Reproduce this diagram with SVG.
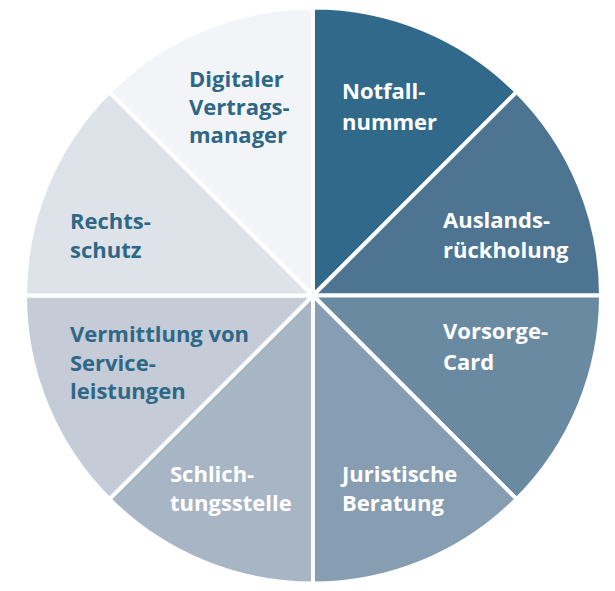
<svg xmlns="http://www.w3.org/2000/svg" width="615" height="591" viewBox="0 0 615 591">
<style>
.seg{stroke:#ffffff;stroke-width:4;stroke-linejoin:round}
.lbl{font-family:"Open Sans","Noto Sans",sans-serif;font-weight:700;font-size:22px}
.w{fill:#ffffff}
.d{fill:#2f6886}
</style>
<rect width="615" height="591" fill="#ffffff"/>
<g id="connectors"></g>
<g id="notfall">
<path class="seg" fill="#31698a" d="M313,295.5 L313,7.5 A288,288 0 0 1 516.65,91.85 Z"/>
<text class="lbl w" x="342" y="99">Notfall-</text>
<text class="lbl w" x="342" y="130">nummer</text>
</g>
<g id="auslands">
<path class="seg" fill="#4d7591" d="M313,295.5 L516.65,91.85 A288,288 0 0 1 601,295.5 Z"/>
<text class="lbl w" x="443" y="228">Auslands-</text>
<text class="lbl w" x="443" y="258">rückholung</text>
</g>
<g id="vorsorge">
<path class="seg" fill="#6a8aa2" d="M313,295.5 L601,295.5 A288,288 0 0 1 516.65,499.15 Z"/>
<text class="lbl w" x="443" y="339">Vorsorge-</text>
<text class="lbl w" x="443" y="370">Card</text>
</g>
<g id="juristisch">
<path class="seg" fill="#879db2" d="M313,295.5 L516.65,499.15 A288,288 0 0 1 313,583.5 Z"/>
<text class="lbl w" x="342" y="482">Juristische</text>
<text class="lbl w" x="342" y="511">Beratung</text>
</g>
<g id="schlichtung">
<path class="seg" fill="#a8b5c4" d="M313,295.5 L313,583.5 A288,288 0 0 1 109.35,499.15 Z"/>
<text class="lbl w" x="170" y="482">Schlich-</text>
<text class="lbl w" x="170" y="511">tungsstelle</text>
</g>
<g id="vermittlung">
<path class="seg" fill="#c5ccd7" d="M313,295.5 L109.35,499.15 A288,288 0 0 1 25,295.5 Z"/>
<text class="lbl d" x="70" y="342">Vermittlung von</text>
<text class="lbl d" x="70" y="371">Service-</text>
<text class="lbl d" x="70" y="399">leistungen</text>
</g>
<g id="rechtsschutz">
<path class="seg" fill="#dee3ea" d="M313,295.5 L25,295.5 A288,288 0 0 1 109.35,91.85 Z"/>
<text class="lbl d" x="70" y="229">Rechts-</text>
<text class="lbl d" x="70" y="258">schutz</text>
</g>
<g id="digital">
<path class="seg" fill="#f3f4f8" d="M313,295.5 L109.35,91.85 A288,288 0 0 1 313,7.5 Z"/>
<text class="lbl d" x="189" y="87">Digitaler</text>
<text class="lbl d" x="189" y="115">Vertrags-</text>
<text class="lbl d" x="189" y="143">manager</text>
</g>
</svg>
